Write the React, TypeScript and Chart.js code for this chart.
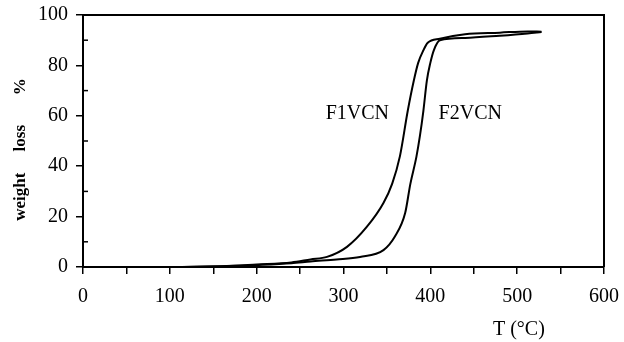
import React, { useEffect, useRef } from "react";
import { Chart, registerables } from "chart.js";

Chart.register(...registerables);

// F1VCN curve (temperature °C, weight loss %)
const f1Temp = [0, 100, 160, 200, 240, 262, 281, 304, 327, 346, 356, 365, 374, 381, 386, 392, 397, 411, 440, 480, 512, 528];
const f1Loss = [0, 0, 0.3, 1, 1.8, 3, 4, 8, 16, 25.4, 33, 44, 62, 74, 81, 86, 89, 90.6, 92.4, 93.0, 93.5, 93.4];

// F2VCN curve
const f2Temp = [0, 100, 160, 200, 240, 262, 292, 319, 346, 359, 371, 377, 384, 388, 392, 396, 400, 404, 411, 440, 480, 512, 528];
const f2Loss = [0, 0, 0.3, 0.8, 1.5, 2.2, 3, 4, 6.7, 12, 21.4, 33, 43.8, 52, 62, 74, 81, 86, 90, 90.9, 91.8, 92.7, 93.3];

const xTickValues = [0, 100, 200, 300, 400, 500, 600];
const yTickValues = [0, 20, 40, 60, 80, 100];
const yMinorTicks = [10, 30, 50, 70, 90];

const curveLabels = [
  { text: "F1VCN", x: 316, y: 61 },
  { text: "F2VCN", x: 446, y: 61 },
];
const xTitle = { text: "T (°C)", x: 502 };
const yTitle = "weight     loss       %    ";

const FONT = "'Liberation Serif', 'Times New Roman', serif";

export default function App() {
  const ref = useRef<HTMLCanvasElement | null>(null);

  useEffect(() => {
    if (!ref.current) return;
    const toPts = (xs: number[], ys: number[]) => xs.map((x, i) => ({ x, y: ys[i] }));
    const noPad = (scale: any) => {
      scale.paddingTop = 0;
      scale.paddingBottom = 0;
      scale.paddingLeft = 0;
      scale.paddingRight = 0;
    };

    const decor = {
      id: "decor",
      afterDraw(chart: any) {
        const ctx = chart.ctx;
        const a = chart.chartArea;
        const xs = chart.scales.x;
        const ys = chart.scales.y;
        ctx.save();
        ctx.strokeStyle = "#000";
        ctx.lineWidth = 2;
        ctx.beginPath();
        ctx.moveTo(a.left, a.top);
        ctx.lineTo(a.right, a.top);
        ctx.lineTo(a.right, a.bottom);
        ctx.stroke();
        ctx.lineWidth = 1.5;
        yMinorTicks.forEach((v) => {
          const p = ys.getPixelForValue(v);
          ctx.beginPath();
          ctx.moveTo(a.left, p);
          ctx.lineTo(a.left + 5, p);
          ctx.stroke();
        });
        ctx.fillStyle = "#000";
        ctx.font = `20px ${FONT}`;
        ctx.textAlign = "center";
        ctx.textBaseline = "middle";
        curveLabels.forEach((l) => {
          ctx.fillText(l.text, xs.getPixelForValue(l.x), ys.getPixelForValue(l.y));
        });
        ctx.fillText(xTitle.text, xs.getPixelForValue(xTitle.x), chart.height - 12);
        ctx.restore();
      },
    };

    const chart = new Chart(ref.current, {
      type: "line",
      data: {
        datasets: [
          {
            label: "F1VCN",
            data: toPts(f1Temp, f1Loss),
            borderColor: "#000",
            borderWidth: 2,
            pointRadius: 0,
            cubicInterpolationMode: "monotone",
            fill: false,
          },
          {
            label: "F2VCN",
            data: toPts(f2Temp, f2Loss),
            borderColor: "#000",
            borderWidth: 2,
            pointRadius: 0,
            cubicInterpolationMode: "monotone",
            fill: false,
          },
        ],
      },
      options: {
        animation: false,
        responsive: false,
        maintainAspectRatio: false,
        layout: { padding: { left: 0, right: 20, top: 15, bottom: 0 } },
        plugins: { legend: { display: false }, tooltip: { enabled: false } },
        scales: {
          x: {
            type: "linear",
            min: 0,
            max: 600,
            afterFit(scale: any) {
              scale.height = 75;
              noPad(scale);
            },
            afterBuildTicks(scale: any) {
              const t: any[] = [];
              for (let v = 0; v <= 600; v += 50) t.push({ value: v });
              scale.ticks = t;
            },
            ticks: {
              autoSkip: false,
              maxRotation: 0,
              padding: 11,
              color: "#000",
              font: { family: FONT, size: 20 },
              callback: (v: any) => (xTickValues.includes(Number(v)) ? String(v) : ""),
            },
            grid: { drawOnChartArea: false, drawTicks: true, tickLength: 7, color: "#000", lineWidth: 1.5 },
            border: { display: true, color: "#000", width: 2 },
          },
          y: {
            type: "linear",
            min: 0,
            max: 100,
            afterFit(scale: any) {
              scale.width = 83;
              noPad(scale);
            },
            afterBuildTicks(scale: any) {
              scale.ticks = yTickValues.map((v) => ({ value: v }));
            },
            ticks: {
              padding: 8,
              color: "#000",
              font: { family: FONT, size: 20 },
            },
            title: {
              display: true,
              text: yTitle,
              color: "#000",
              font: { family: FONT, size: 17, weight: "bold" },
              padding: { top: 10, bottom: 0 },
            },
            grid: { drawOnChartArea: false, drawTicks: true, tickLength: 7, color: "#000", lineWidth: 1.5 },
            border: { display: true, color: "#000", width: 2 },
          },
        },
      },
      plugins: [decor],
    } as any);
    return () => chart.destroy();
  }, []);

  return (
    <div style={{ position: "absolute", left: 0, top: 0, width: 624, height: 342, background: "#fff" }}>
      <canvas ref={ref} width={624} height={342} style={{ width: 624, height: 342 }} />
    </div>
  );
}
